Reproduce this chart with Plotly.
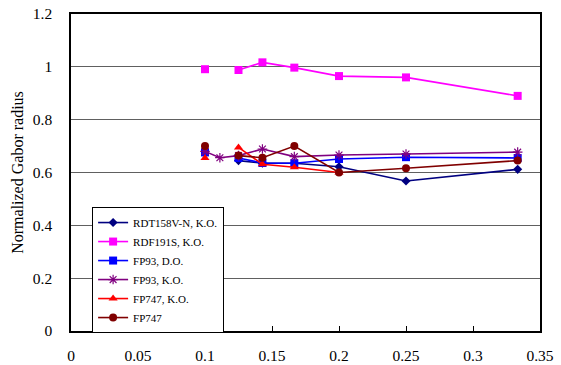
import plotly.graph_objects as go

x_vals = [1/10, 1/9, 1/8, 1/7, 1/6, 1/5, 1/4, 1/3]

rdt158v_n_ko = [None, None, 0.645, 0.635, 0.635, 0.622, 0.568, 0.612]
rdf191s_ko = [0.991, None, 0.988, 1.017, 0.997, 0.965, 0.960, 0.890]
fp93_do = [0.676, None, 0.655, 0.636, 0.635, 0.651, 0.658, 0.655]
fp93_ko = [0.680, 0.656, 0.664, 0.689, 0.660, 0.666, 0.670, 0.677]
fp747_ko = [0.655, None, 0.695, 0.631, 0.620, 0.600, None, None]
fp747 = [0.700, None, 0.664, 0.656, 0.700, 0.600, 0.616, 0.645]

series = [
    ("RDT158V-N, K.O.", rdt158v_n_ko, "#000080", "diamond", 7),
    ("RDF191S, K.O.", rdf191s_ko, "#FF00FF", "square", 8),
    ("FP93, D.O.", fp93_do, "#0000FF", "square", 8),
    ("FP93, K.O.", fp93_ko, "#800080", "asterisk-open", 8),
    ("FP747, K.O.", fp747_ko, "#FF0000", "triangle-up", 8),
    ("FP747", fp747, "#800000", "circle", 8),
]

fig = go.Figure()
for name, ys, color, sym, size in series:
    marker = dict(symbol=sym, size=size, color=color)
    if sym == "asterisk-open":
        marker["line"] = dict(color=color, width=1.2)
    fig.add_trace(go.Scatter(
        x=x_vals, y=ys, name=name, mode="lines+markers",
        line=dict(color=color, width=1.6),
        marker=marker, connectgaps=False,
    ))

font_family = "Liberation Serif, Times New Roman, serif"
fig.update_layout(
    width=561, height=365,
    margin=dict(l=71, r=21, t=14, b=34, autoexpand=False),
    paper_bgcolor="white", plot_bgcolor="white",
    font=dict(family=font_family, size=15, color="black"),
    showlegend=True,
    legend=dict(
        x=0.045, y=0.391, xanchor="left", yanchor="top",
        bordercolor="black", borderwidth=1, bgcolor="white",
        font=dict(family=font_family, size=11, color="black"),
        itemwidth=30, tracegroupgap=0,
    ),
)
fig.update_xaxes(
    range=[0, 0.35], tickvals=[0, 0.05, 0.1, 0.15, 0.2, 0.25, 0.3, 0.35],
    ticktext=["0", "0.05", "0.1", "0.15", "0.2", "0.25", "0.3", "0.35"],
    showgrid=False, zeroline=False, showline=True, linecolor="black", linewidth=1.5,
    mirror=True, ticks="inside", ticklen=5, tickcolor="black",
    tickfont=dict(size=15.5), ticklabelstandoff=10, automargin=False,
)
fig.update_yaxes(
    range=[0, 1.2], tickvals=[0, 0.2, 0.4, 0.6, 0.8, 1.0, 1.2],
    ticktext=["0", "0.2", "0.4", "0.6", "0.8", "1", "1.2"],
    showgrid=True, gridcolor="#606060", gridwidth=1,
    zeroline=False, showline=True, linecolor="black", linewidth=1.5,
    mirror=True, ticks="outside", ticklen=0, ticklabelstandoff=14,
    tickfont=dict(size=15.5), automargin=False,
    title=dict(text="Normalized Gabor radius", font=dict(size=16), standoff=5),
)

fig.write_html("out.html")
